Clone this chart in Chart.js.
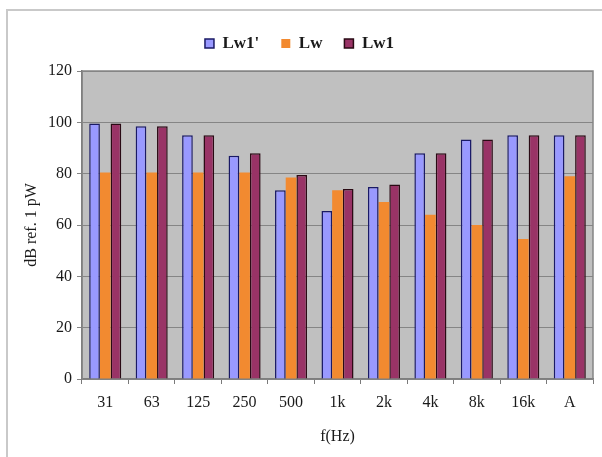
<!DOCTYPE html>
<html>
<head>
<meta charset="utf-8">
<script src="https://cdn.jsdelivr.net/npm/chart.js@4/dist/chart.umd.min.js"></script>
<style>
  html, body { margin: 0; padding: 0; background: #fff; }
  #wrap { width: 602px; height: 457px; position: relative; }
</style>
</head>
<body>
<div id="wrap"><canvas id="chart" width="602" height="457"></canvas></div>
<script>
// sound power levels per octave band
const bands = ['31', '63', '125', '250', '500', '1k', '2k', '4k', '8k', '16k', 'A'];
const lw1Prime = [99.5, 98.5, 95, 87, 73.5, 65.5, 74.8, 88, 93.3, 95, 95];
const lw = [80.5, 80.5, 80.5, 80.5, 78.5, 73.5, 69, 64, 60, 54.5, 79];
const lw1 = [99.5, 98.5, 95, 88, 79.5, 74, 75.8, 88, 93.3, 95, 95];
const yTicks = [0, 20, 40, 60, 80, 100, 120];

const serif = 'Liberation Serif';

// white page, thin frame and grey plot area
const backdrop = {
    id: 'backdrop',
    beforeDraw(chart) {
        const ctx = chart.ctx;
        const a = chart.chartArea;
        ctx.save();
        ctx.fillStyle = '#fff';
        ctx.fillRect(0, 0, chart.width, chart.height);
        ctx.strokeStyle = '#c9c9c9';
        ctx.lineWidth = 2;
        ctx.beginPath();
        ctx.moveTo(7, chart.height);
        ctx.lineTo(7, 10);
        ctx.lineTo(chart.width, 10);
        ctx.stroke();
        ctx.fillStyle = '#c0c0c0';
        ctx.fillRect(a.left, a.top, a.right - a.left, a.bottom - a.top);
        ctx.restore();
    },
    beforeDatasetsDraw(chart) {
        const ctx = chart.ctx;
        const a = chart.chartArea;
        ctx.save();
        ctx.strokeStyle = '#858585';
        ctx.lineWidth = 1.5;
        ctx.strokeRect(a.left, a.top, a.right - a.left, a.bottom - a.top);
        ctx.restore();
    }
};

// extra room under the legend
const legendGap = {
    id: 'legendGap',
    beforeInit(chart) {
        const fit = chart.legend.fit;
        chart.legend.fit = function () {
            fit.bind(this)();
            this.height += 9;
        };
    }
};

new Chart(document.getElementById('chart'), {
    type: 'bar',
    data: {
        labels: bands,
        datasets: [
            { label: "Lw1'", data: lw1Prime, backgroundColor: '#9999ff', borderColor: '#1a1a66', borderWidth: 1.5, borderSkipped: 'bottom' },
            { label: 'Lw', data: lw, backgroundColor: '#f28a30', borderWidth: 0 },
            { label: 'Lw1', data: lw1, backgroundColor: '#993366', borderColor: '#2a0a14', borderWidth: 1.5, borderSkipped: 'bottom' }
        ]
    },
    options: {
        responsive: false,
        animation: false,
        layout: { padding: { top: 13, right: 9, left: 6, bottom: 0 } },
        datasets: { bar: { categoryPercentage: 0.69, barPercentage: 1.0 } },
        scales: {
            x: {
                grid: { display: true, drawOnChartArea: false, offset: true, color: '#7a7a7a', tickLength: 5 },
                border: { color: '#6e6e6e', width: 1.5 },
                ticks: { color: '#1a1a1a', padding: 9, font: { family: serif, size: 16 } },
                title: { display: true, text: 'f(Hz)', color: '#1a1a1a', font: { family: serif, size: 16 }, padding: { top: 6, bottom: 11 } },
                afterFit(scale) { scale.height = 78; }
            },
            y: {
                min: 0, max: 120,
                afterBuildTicks(scale) { scale.ticks = yTicks.map(v => ({ value: v })); },
                grid: { color: '#858585', tickLength: 5, lineWidth: 1 },
                border: { color: '#6e6e6e', width: 1.5 },
                ticks: { color: '#1a1a1a', padding: 5, font: { family: serif, size: 16 } },
                title: { display: true, text: 'dB ref. 1 pW', color: '#1a1a1a', font: { family: serif, size: 16 }, padding: { top: 16, bottom: 4 } },
                afterFit(scale) { scale.width = 76; }
            }
        },
        plugins: {
            legend: {
                position: 'top',
                labels: {
                    boxWidth: 9, boxHeight: 9, padding: 22, color: '#1a1a1a',
                    font: { family: serif, size: 17, weight: 'bold' }
                }
            },
            tooltip: { enabled: false }
        }
    },
    plugins: [backdrop, legendGap]
});
</script>
</body>
</html>
